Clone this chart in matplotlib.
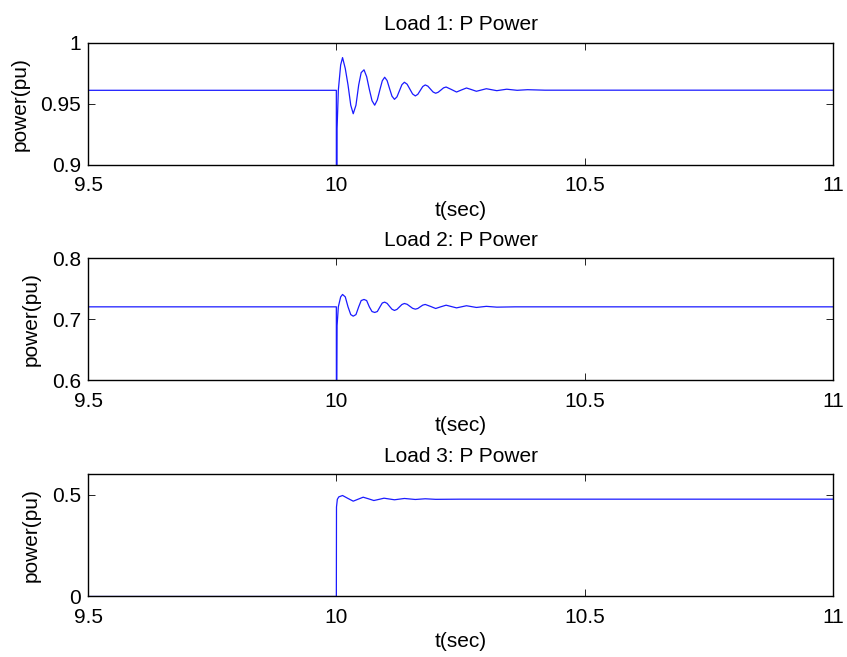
import matplotlib.pyplot as plt

plt.rcParams['font.family'] = ['Liberation Sans', 'DejaVu Sans']
FONT_SIZE = 15

# ------ data -----
# load 1 active power (pu)
t1 = [9.5, 10.0, 10.0002, 10.0015, 10.004, 10.0087, 10.0125, 10.018, 10.0235, 10.029,
      10.034, 10.0395, 10.045, 10.050, 10.0557, 10.061, 10.0664, 10.0718, 10.0772,
      10.0825, 10.0879, 10.0925, 10.0973, 10.1022, 10.107, 10.112, 10.117, 10.122,
      10.127, 10.132, 10.137, 10.1425, 10.148, 10.1535, 10.159, 10.164, 10.169,
      10.174, 10.179, 10.1843, 10.1895, 10.1948, 10.20, 10.205, 10.2105, 10.2158,
      10.221, 10.2315, 10.242, 10.252, 10.262, 10.272, 10.282, 10.302, 10.323,
      10.343, 10.364, 10.385, 10.42, 11.0]
p1 = [0.9612, 0.9612, 0.5, 0.93, 0.9612, 0.982, 0.988, 0.979, 0.9656, 0.949,
      0.942, 0.949, 0.9656, 0.9757, 0.978, 0.9724, 0.962, 0.9527, 0.949,
      0.9533, 0.962, 0.969, 0.9719, 0.9692, 0.9628, 0.9564, 0.9538, 0.9558,
      0.9608, 0.9658, 0.9678, 0.9662, 0.9622, 0.9582, 0.9566, 0.9579, 0.9611,
      0.9643, 0.9656, 0.9646, 0.9622, 0.9598, 0.9588, 0.9596, 0.9614, 0.9632,
      0.9639, 0.9619, 0.9598, 0.9615, 0.9631, 0.9618, 0.9604, 0.9625, 0.9609,
      0.9621, 0.9612, 0.9617, 0.9613, 0.9613]

# load 2 active power (pu)
t2 = [9.5, 10.0, 10.0002, 10.0015, 10.004, 10.0087, 10.0125, 10.018, 10.0235, 10.029,
      10.034, 10.0395, 10.045, 10.050, 10.0557, 10.061, 10.0664, 10.0718, 10.0772,
      10.0825, 10.0879, 10.0925, 10.0973, 10.1022, 10.107, 10.112, 10.117, 10.122,
      10.127, 10.132, 10.137, 10.1425, 10.148, 10.1535, 10.159, 10.164, 10.169,
      10.174, 10.179, 10.19, 10.20, 10.21, 10.221, 10.2315, 10.242, 10.262, 10.282,
      10.302, 10.323, 10.36, 11.0]
p2 = [0.7207, 0.7207, 0.45, 0.69, 0.7207, 0.737, 0.741, 0.737, 0.7207, 0.708,
      0.7054, 0.708, 0.7207, 0.731, 0.7328, 0.731, 0.7207, 0.713, 0.7115,
      0.713, 0.7207, 0.727, 0.7284, 0.7264, 0.7216, 0.7168, 0.7148, 0.7165,
      0.7205, 0.7245, 0.7262, 0.7249, 0.7216, 0.7183, 0.7169, 0.718, 0.7208,
      0.7235, 0.7246, 0.7213, 0.718, 0.7207, 0.7234, 0.7212, 0.719, 0.7225, 0.7197,
      0.7215, 0.7202, 0.7207, 0.7207]

# load 3 active power (pu)
t3 = [9.5, 10.0, 10.0003, 10.002, 10.005, 10.0125, 10.023, 10.034, 10.044, 10.054,
      10.065, 10.0755, 10.086, 10.096, 10.117, 10.137, 10.159, 10.179, 10.20, 10.25, 11.0]
p3 = [0.0, 0.0, 0.44, 0.478, 0.49, 0.4966, 0.4827, 0.4688, 0.4786, 0.4883,
      0.4802, 0.472, 0.4777, 0.4834, 0.4756, 0.482, 0.4771, 0.4805, 0.4778, 0.4786, 0.4786]

titles = ['Load 1: P Power', 'Load 2: P Power', 'Load 3: P Power']
ylims = [(0.9, 1.0), (0.6, 0.8), (0.0, 0.6)]
yticks = [[0.9, 0.95, 1], [0.6, 0.7, 0.8], [0, 0.5]]
yticklabels = [['0.9', '0.95', '1'], ['0.6', '0.7', '0.8'], ['0', '0.5']]
xticks = [9.5, 10, 10.5, 11]
xticklabels = ['9.5', '10', '10.5', '11']
# ---------------------------------------

fig = plt.figure(figsize=(8.47, 6.57), dpi=100)
boxes = [(0.1039, 0.7489), (0.1039, 0.4209), (0.1039, 0.0921)]
series = [(t1, p1), (t2, p2), (t3, p3)]

for i in range(3):
    ax = fig.add_axes([boxes[i][0], boxes[i][1], 0.8796, 0.1857])
    t, p = series[i]
    ax.plot(t, p, color='#1a1aff', linewidth=0.9)
    ax.set_xlim(9.5, 11)
    ax.set_ylim(*ylims[i])
    ax.set_xticks(xticks)
    ax.set_xticklabels(xticklabels, fontsize=FONT_SIZE)
    ax.set_yticks(yticks[i])
    ax.set_yticklabels(yticklabels[i], fontsize=FONT_SIZE)
    ax.tick_params(direction='in', top=True, right=True, length=5, width=0.6)
    ax.tick_params(axis='x', pad=8)
    ax.tick_params(axis='y', pad=5)
    for s in ax.spines.values():
        s.set_linewidth(1.0)
    ax.set_title(titles[i], fontsize=FONT_SIZE, pad=9)
    ax.set_xlabel('t(sec)', fontsize=FONT_SIZE, labelpad=4)
    ax.set_ylabel('power(pu)', fontsize=FONT_SIZE, labelpad=8)

plt.savefig('out.png', dpi=100)
